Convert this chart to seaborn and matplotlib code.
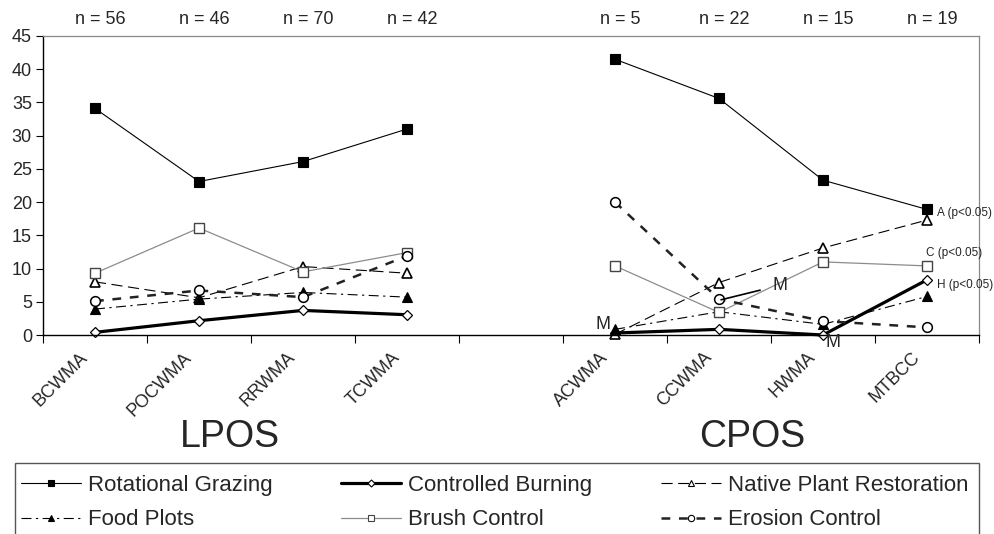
import numpy as np
import pandas as pd
import matplotlib
matplotlib.use("Agg")
import matplotlib.pyplot as plt
import matplotlib.transforms as mtransforms
import seaborn as sns
from matplotlib.lines import Line2D
from matplotlib.patches import Rectangle

# ---------------- data ----------------
sites = ["BCWMA", "POCWMA", "RRWMA", "TCWMA", "ACWMA", "CCWMA", "HWMA", "MTBCC"]
regions = ["LPOS", "LPOS", "LPOS", "LPOS", "CPOS", "CPOS", "CPOS", "CPOS"]
sample_n = [56, 46, 70, 42, 5, 22, 15, 19]

rotational_grazing = [34.1, 23.1, 26.1, 31.0, 41.5, 35.6, 23.3, 18.9]
controlled_burning = [0.4, 2.15, 3.7, 3.05, 0.3, 0.85, 0.0, 8.3]
native_plant_restoration = [8.0, 5.6, 10.3, 9.3, 0.1, 7.9, 13.1, 17.3]
food_plots = [3.9, 5.4, 6.4, 5.7, 0.85, 3.5, 1.6, 5.8]
brush_control = [9.3, 16.1, 9.5, 12.4, 10.4, 3.4, 11.0, 10.4]
erosion_control = [5.1, 6.7, 5.7, 11.9, 20.0, 5.4, 2.1, 1.15]

series_names = ["Rotational Grazing", "Controlled Burning", "Native Plant Restoration",
                "Food Plots", "Brush Control", "Erosion Control"]
series_values = [rotational_grazing, controlled_burning, native_plant_restoration,
                 food_plots, brush_control, erosion_control]

# ---------------- styles ----------------
styles = {
    "Rotational Grazing": dict(color="black", lw=0.8, dashes=None, marker="s", ms=6.5,
                               mfc="black", mec="black", mew=0.8),
    "Controlled Burning": dict(color="black", lw=2.3, dashes=None, marker="D", ms=5.5,
                               mfc="white", mec="black", mew=0.9),
    "Native Plant Restoration": dict(color="black", lw=0.8, dashes=(10, 5), marker="^", ms=7.5,
                                     mfc="white", mec="black", mew=1.2),
    "Food Plots": dict(color="black", lw=0.8, dashes=(9, 4, 2, 4), marker="^", ms=7.5,
                       mfc="black", mec="black", mew=0.8),
    "Brush Control": dict(color="#8c8c8c", lw=0.9, dashes=None, marker="s", ms=7,
                          mfc="white", mec="#444444", mew=1.0),
    "Erosion Control": dict(color="#222222", lw=1.8, dashes=(3.5, 3.5), marker="o", ms=7,
                            mfc="white", mec="black", mew=1.1),
}

sns.set_style("ticks")
plt.rcParams["font.family"] = ["Liberation Sans", "DejaVu Sans"]

fig = plt.figure(figsize=(9.94, 5.34), dpi=100)
ax = fig.add_axes([43 / 994, 1 - 335 / 534, (979 - 43) / 994, (335 - 36) / 534])

positions = [i + (1 if r == "CPOS" else 0) for i, r in enumerate(regions)]

for name, vals in zip(series_names, series_values):
    st = styles[name]
    df = pd.DataFrame({"pos": positions, "value": vals, "region": regions})
    kw = dict(color=st["color"], linewidth=st["lw"], marker=st["marker"], markersize=st["ms"],
              markerfacecolor=st["mfc"], markeredgecolor=st["mec"], markeredgewidth=st["mew"])
    sns.lineplot(data=df, x="pos", y="value", units="region", estimator=None, sort=False,
                 ax=ax, legend=False, **kw)
    for ln in ax.get_lines()[-2:]:
        if st["dashes"] is not None:
            ln.set_dashes(st["dashes"])
        ln.set_clip_on(False)

# ---------------- axes ----------------
ax.set_xlim(-0.5, 8.5)
ax.set_ylim(0, 45)
ax.set_yticks(np.arange(0, 46, 5))
ax.tick_params(axis="y", labelsize=13, length=5, width=0.8, direction="out", pad=3, color="black")
ax.set_xticks(positions)
ax.set_xticklabels(sites, rotation=45, ha="right", va="top", rotation_mode="anchor", fontsize=13)
ax.tick_params(axis="x", length=0, pad=10)
offset = mtransforms.ScaledTranslation(-0.16, 0, fig.dpi_scale_trans)
for lbl in ax.get_xticklabels():
    lbl.set_transform(lbl.get_transform() + offset)
ax.set_xticks(np.arange(-0.5, 8.6, 1), minor=True)
ax.tick_params(axis="x", which="minor", length=6, width=0.8, direction="out", color="black")
ax.set_xlabel("")
ax.set_ylabel("")
for s in ["left", "bottom"]:
    ax.spines[s].set_color("black")
    ax.spines[s].set_linewidth(1.0)
for s in ["top", "right"]:
    ax.spines[s].set_visible(True)
    ax.spines[s].set_color("#888888")
    ax.spines[s].set_linewidth(0.9)

# sample sizes above
trans = mtransforms.blended_transform_factory(ax.transData, ax.transAxes)
for p, n in zip(positions, sample_n):
    ax.text(p + 0.05, 1.054, f"n = {n}", transform=trans, ha="center", va="center", fontsize=13)

# annotations
idx = {s: i for i, s in enumerate(sites)}
pa, pc, ph, pm = (positions[idx[s]] for s in ["ACWMA", "CCWMA", "HWMA", "MTBCC"])
ax.text(pa - 0.12, food_plots[idx["ACWMA"]] + 0.7, "M", ha="center", va="center", fontsize=13)
ax.text(ph + 0.1, -1.2, "M", ha="center", va="center", fontsize=13, clip_on=False)
ax.annotate("M", xy=(pc + 0.02, erosion_control[idx["CCWMA"]] - 0.1),
            xytext=(pc + 0.59, erosion_control[idx["CCWMA"]] + 2.1),
            ha="center", va="center", fontsize=13,
            arrowprops=dict(arrowstyle="-", color="black", lw=1.2, shrinkA=7, shrinkB=0))
ax.text(pm + 0.1, rotational_grazing[idx["MTBCC"]] - 0.5, "A (p<0.05)", ha="left", va="center", fontsize=8.5)
ax.text(pm - 0.01, brush_control[idx["MTBCC"]] + 1.9, "C (p<0.05)", ha="left", va="center", fontsize=8.5)
ax.text(pm + 0.1, controlled_burning[idx["MTBCC"]] - 0.8, "H (p<0.05)", ha="left", va="center", fontsize=8.5)

# group labels
fig.text(230 / 994, 1 - 437 / 534, "LPOS", ha="center", va="center", fontsize=27)
fig.text(752 / 994, 1 - 437 / 534, "CPOS", ha="center", va="center", fontsize=27)

# legend
handles = []
for name in series_names:
    st = styles[name]
    h = Line2D([], [], color=st["color"], lw=st["lw"], marker=st["marker"], ms=st["ms"] * 0.65,
               mfc=st["mfc"], mec=st["mec"], mew=0.8)
    if st["dashes"] is not None:
        h.set_dashes(st["dashes"])
    handles.append(h)
order = [0, 3, 1, 4, 2, 5]
leg = fig.legend([handles[i] for i in order], [series_names[i] for i in order],
                 ncol=3, loc="upper left", bbox_to_anchor=(21 / 994, 1 - 475 / 534),
                 frameon=False, fontsize=16, handlelength=2.7, handletextpad=0.3,
                 columnspacing=3.1, labelspacing=0.6, borderpad=0.0, borderaxespad=0)
fig.patches.append(Rectangle((15 / 994, -0.05), (979 - 15) / 994, 0.05 + (534 - 463) / 534,
                             transform=fig.transFigure, fill=False, edgecolor="#555555", lw=1.0))

fig.savefig("out.png", dpi=100, facecolor="white")
